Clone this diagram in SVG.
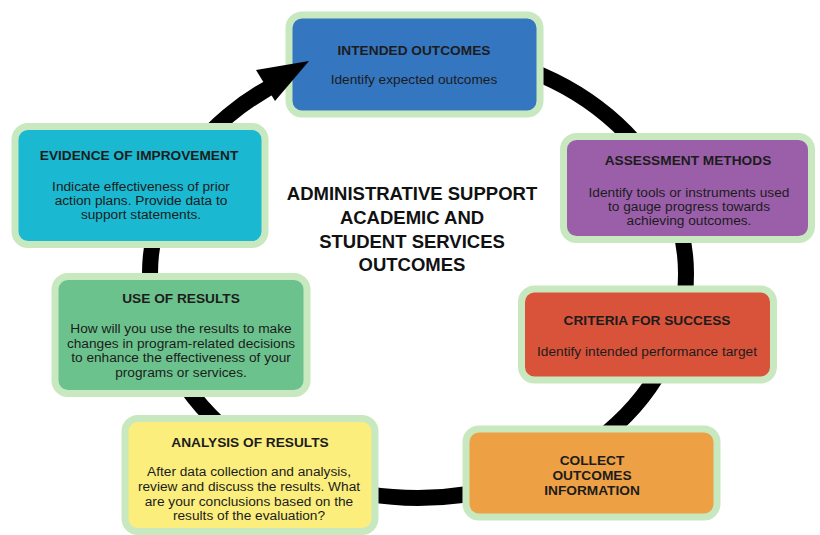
<svg xmlns="http://www.w3.org/2000/svg" width="820" height="535" viewBox="0 0 820 535">
<style>
.box{stroke:#c8e8c0;stroke-width:7}
.t{font-family:"Liberation Sans",Arial,sans-serif;font-weight:bold;font-size:13.7px;fill:#1c1c1c;text-anchor:middle}
.b{font-family:"Liberation Sans",Arial,sans-serif;font-size:13.7px;fill:#1c1c1c;text-anchor:middle}
.c{font-family:"Liberation Sans",Arial,sans-serif;font-weight:bold;font-size:18.5px;fill:#111;text-anchor:middle}
.ring{fill:none;stroke:#000;stroke-width:16}
</style>
<defs>
<mask id="m" maskUnits="userSpaceOnUse" x="0" y="0" width="820" height="535">
<rect x="0" y="0" width="820" height="535" fill="#fff"/>
<rect x="285.5" y="11.5" width="258" height="106" rx="16" fill="#000"/>
<rect x="11.5" y="123" width="257" height="125" rx="16" fill="#000"/>
<rect x="560" y="133" width="255" height="110" rx="16" fill="#000"/>
<rect x="518" y="285.5" width="259" height="98" rx="16" fill="#000"/>
<rect x="51.5" y="273" width="259" height="124" rx="16" fill="#000"/>
<rect x="121.5" y="415" width="257" height="120" rx="16" fill="#000"/>
<rect x="462.5" y="425.5" width="258" height="95" rx="16" fill="#000"/>
</mask>
</defs>
<rect width="820" height="535" fill="#fff"/>

<g id="intended-outcomes">
<rect class="box" x="289" y="15" width="251" height="99" rx="13" fill="#3576c1"/>
<text class="t" x="414" y="55">INTENDED OUTCOMES</text>
<text class="b" x="414" y="84">Identify expected outcomes</text>
</g>

<g id="assessment-methods">
<rect class="box" x="563.5" y="136.5" width="248" height="103" rx="13" fill="#9b5fa9"/>
<text class="t" x="688" y="165">ASSESSMENT METHODS</text>
<text class="b" x="689" y="197">Identify tools or instruments used</text>
<text class="b" x="689" y="211">to gauge progress towards</text>
<text class="b" x="689" y="225">achieving outcomes.</text>
</g>

<g id="criteria-for-success">
<rect class="box" x="521.5" y="289" width="252" height="91" rx="13" fill="#d9533a"/>
<text class="t" x="647" y="325">CRITERIA FOR SUCCESS</text>
<text class="b" x="647" y="356">Identify intended performance target</text>
</g>

<g id="collect-outcomes-information">
<rect class="box" x="466" y="429" width="251" height="88" rx="13" fill="#eea044"/>
<text class="t" x="592" y="465">COLLECT</text>
<text class="t" x="592" y="480">OUTCOMES</text>
<text class="t" x="592" y="495">INFORMATION</text>
</g>

<g id="analysis-of-results">
<rect class="box" x="125" y="418.5" width="250" height="113" rx="13" fill="#fbee7c"/>
<text class="t" x="250" y="447">ANALYSIS OF RESULTS</text>
<text class="b" x="249" y="476">After data collection and analysis,</text>
<text class="b" x="249" y="491">review and discuss the results. What</text>
<text class="b" x="249" y="506">are your conclusions based on the</text>
<text class="b" x="249" y="520">results of the evaluation?</text>
</g>

<g id="use-of-results">
<rect class="box" x="55" y="276.5" width="252" height="117" rx="13" fill="#6cc28d"/>
<text class="t" x="181" y="303">USE OF RESULTS</text>
<text class="b" x="181" y="333">How will you use the results to make</text>
<text class="b" x="181" y="348">changes in program-related decisions</text>
<text class="b" x="181" y="362">to enhance the effectiveness of your</text>
<text class="b" x="181" y="377">programs or services.</text>
</g>

<g id="evidence-of-improvement">
<rect class="box" x="15" y="126.5" width="250" height="118" rx="13" fill="#1ab8d1"/>
<text class="t" x="139" y="160">EVIDENCE OF IMPROVEMENT</text>
<text class="b" x="141" y="191">Indicate effectiveness of prior</text>
<text class="b" x="141" y="205">action plans. Provide data to</text>
<text class="b" x="141" y="219">support statements.</text>
</g>

<g id="center-title">
<text class="c" x="412" y="200">ADMINISTRATIVE SUPPORT</text>
<text class="c" x="412" y="224">ACADEMIC AND</text>
<text class="c" x="412" y="248">STUDENT SERVICES</text>
<text class="c" x="412" y="271">OUTCOMES</text>
</g>

<g id="connectors">
<ellipse class="ring" cx="418" cy="274" rx="268" ry="224" mask="url(#m)"/>
<polygon points="309,61 275,101 256,70" fill="#000"/>
</g>
</svg>
